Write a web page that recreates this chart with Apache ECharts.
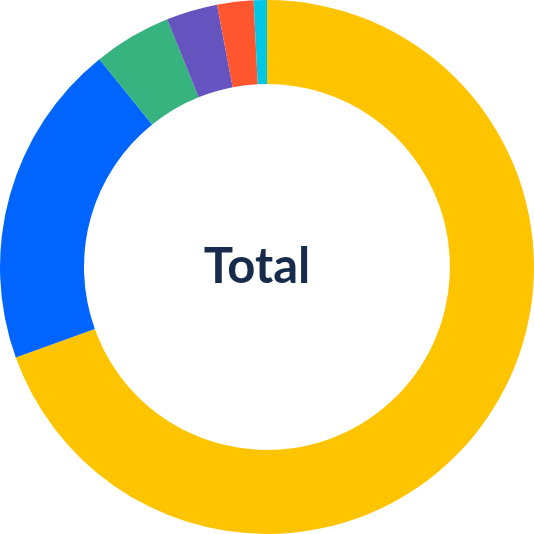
<!DOCTYPE html>
<html><head><meta charset="utf-8">
<script src="https://cdn.jsdelivr.net/npm/echarts@6/dist/echarts.min.js"></script>
<style>html,body{margin:0;padding:0;background:#fff}#c{width:534px;height:534px}</style>
</head><body><div id="c"></div>
<script>
const categories = ['A', 'B', 'C', 'D', 'E', 'F'];
const values = [69.5, 19.7, 4.7, 3.1, 2.2, 0.8];
const colors = ['#FFC400', '#0065FF', '#36B37E', '#6554C0', '#FF5630', '#00C7E6'];
const centerLabel = 'Total';

const chart = echarts.init(document.getElementById('c'));
chart.setOption({
  animation: false,
  graphic: [{
    type: 'text', x: 257, y: 267,
    style: {
      text: centerLabel, align: 'center', verticalAlign: 'middle',
      fontFamily: 'Lato', fontWeight: 'bold', fontSize: 49, fill: '#172B4D'
    }
  }],
  series: [{
    type: 'pie',
    center: [267, 267],
    radius: [183, 267],
    startAngle: 90,
    clockwise: true,
    label: { show: false },
    labelLine: { show: false },
    itemStyle: { borderWidth: 0 },
    emphasis: { disabled: true },
    data: categories.map((c, i) => ({ name: c, value: values[i], itemStyle: { color: colors[i] } }))
  }]
});
</script></body></html>
